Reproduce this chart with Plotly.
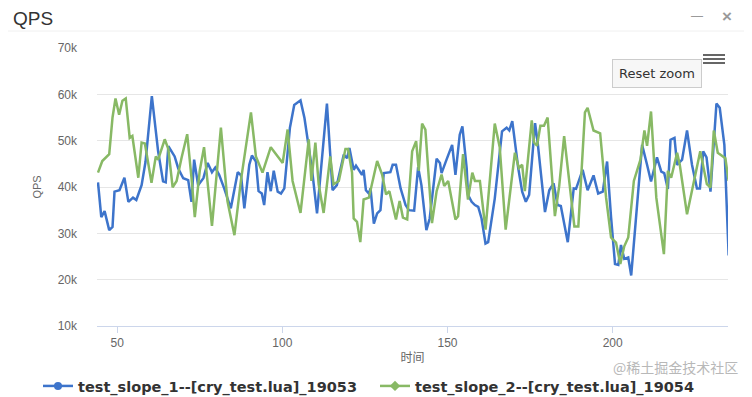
import plotly.graph_objects as go

# ---------------- data ----------------
series1_name = "test_slope_1--[cry_test.lua]_19053"
series2_name = "test_slope_2--[cry_test.lua]_19054"

blue_x = [44.2, 45.2, 46.2, 47.6, 48.6, 49.2, 50.7, 52.2, 53.4, 54.8, 55.8, 57.4, 58.6, 60.5, 62.4,
          63.9, 64.7, 65.5, 67.4, 68.5, 70.0, 71.5, 72.5, 73.3, 74.5, 76.1, 77.4, 78.7, 79.7, 80.9,
          82.4, 84.4, 86.5, 87.5, 88.5, 90.0, 90.8, 92.0, 92.8, 93.8, 94.5, 95.5, 96.5, 97.4, 98.6,
          99.6, 100.6, 102.3, 103.6, 105.5, 106.7, 107.7, 109.0, 110.5, 113.5, 115.2, 116.5, 118.6,
          119.6, 120.3, 121.6, 122.3, 123.1, 124.1, 124.6, 125.3, 126.2, 126.7, 127.7, 128.7, 129.7,
          130.7, 132.7, 133.4, 134.4, 135.8, 137.3, 138.3, 139.9, 141.1, 142.1, 143.6, 144.6, 146.7,
          147.7, 148.2, 149.7, 151.4, 152.4, 153.7, 154.5, 155.8, 156.2, 157.3, 158.3, 159.3, 160.3,
          161.5, 162.3, 164.3, 166.5, 167.9, 168.7, 169.6, 171.4, 172.6, 173.7, 174.7, 176.5, 177.3,
          179.5, 180.8, 182.1, 183.3, 184.3, 186.4, 188.2, 188.9, 190.9, 192.4, 194.2, 195.6, 197.0,
          198.3, 199.5, 200.7, 201.7, 202.5, 203.5, 204.7, 205.6, 208.9, 210.4, 211.6, 213.4, 214.7,
          215.6, 216.7, 217.5, 218.7, 219.5, 221.0, 222.5, 224.0, 225.5, 226.4, 227.4, 228.4, 229.6,
          230.8, 231.4, 232.4, 233.8, 235.1]
blue_y = [41000, 33500, 34800, 30700, 31400, 39000, 39300, 42000, 36800, 37700, 37200, 40400, 45500,
          59600, 47700, 41200, 41000, 48800, 46600, 44000, 41900, 41500, 36800, 45900, 40400, 41900,
          45200, 43200, 44200, 42600, 39700, 35400, 43200, 42500, 35400, 44800, 46800, 45500, 39100,
          38600, 36100, 43200, 39100, 43500, 39000, 38600, 39700, 52800, 57700, 58700, 54900, 49800,
          43700, 34300, 58000, 39300, 40400, 47000, 46200, 48400, 43700, 44600, 43700, 42600, 43700,
          39300, 38600, 39700, 32100, 34300, 35000, 43000, 43200, 44800, 44800, 39700, 36100, 35000,
          34900, 44300, 40400, 30700, 33200, 46100, 45200, 43000, 45900, 49100, 42600, 51300, 53100,
          44100, 38300, 36800, 36100, 35700, 33200, 27800, 28100, 37500, 52000, 52800, 52200, 54200,
          44100, 39000, 36800, 38300, 53800, 49500, 34600, 39300, 40800, 36100, 35900, 28100, 39700,
          39600, 43700, 39300, 42500, 38600, 39000, 45500, 33500, 23400, 23200, 27500, 24500, 24800,
          20900, 49100, 44800, 41200, 46400, 43300, 43000, 39600, 50200, 50600, 44800, 45900, 52200,
          44800, 39700, 39700, 47700, 46400, 39000, 52400, 58000, 57100, 49100, 25200]

green_x = [44.2, 45.5, 47.6, 48.6, 49.5, 50.6, 51.6, 52.6, 53.8, 54.6, 56.4, 57.4, 58.4, 60.4, 61.7,
           62.4, 64.4, 65.5, 66.8, 68.0, 69.5, 71.2, 72.5, 73.5, 75.0, 76.3, 78.7, 81.4, 83.4, 85.5,
           87.5, 90.5, 92.0, 94.0, 96.5, 98.6, 100.1, 101.6, 103.1, 105.5, 108.0, 108.8, 110.0, 111.0,
           112.5, 114.5, 115.5, 117.1, 119.1, 119.9, 121.1, 121.6, 122.6, 123.6, 124.6, 126.2, 128.7,
           130.2, 131.4, 132.4, 134.4, 135.5, 136.5, 137.8, 139.3, 140.5, 141.3, 142.3, 143.3, 145.3,
           146.7, 148.2, 149.0, 150.2, 152.4, 153.2, 154.7, 156.2, 157.5, 158.3, 159.8, 161.5, 164.3,
           165.8, 167.6, 170.4, 171.6, 172.6, 173.4, 175.5, 176.2, 177.1, 178.1, 179.2, 180.3, 182.5,
           183.8, 185.3, 188.4, 189.6, 191.6, 192.4, 194.2, 196.2, 198.0, 199.5, 201.0, 202.3, 203.5,
           204.7, 206.4, 208.4, 209.6, 210.4, 211.6, 213.2, 215.5, 216.7, 217.7, 219.5, 220.3, 222.5,
           226.5, 228.5, 229.6, 230.6, 231.8, 234.1, 235.1]
green_y = [43100, 45600, 47100, 55000, 59100, 55600, 58600, 59100, 50600, 51000, 42000, 49600, 49400,
           40900, 46600, 45900, 50300, 48200, 39900, 41300, 46300, 51400, 42000, 33500, 43500, 48600,
           31600, 52800, 36900, 29600, 41600, 56100, 46600, 43100, 48600, 46600, 45200, 52400, 41300,
           34400, 50300, 41300, 49600, 40600, 34400, 46600, 40600, 41300, 48200, 48200, 43100, 33200,
           32500, 28100, 37300, 37700, 45600, 42700, 38400, 39100, 33000, 37000, 33400, 33000, 47700,
           49900, 43500, 53700, 52400, 32200, 39100, 42700, 40200, 41300, 33000, 33700, 47100, 37300,
           43100, 41300, 41300, 30800, 53700, 48600, 30800, 47400, 44100, 44800, 39100, 54400, 49600,
           48900, 53200, 53200, 55000, 33700, 40200, 51000, 31500, 31500, 56100, 57100, 52200, 51600,
           37700, 29100, 28000, 23400, 27200, 29100, 41300, 45900, 52200, 48900, 56300, 37700, 25500,
           43500, 42000, 47400, 44800, 34100, 47700, 40600, 39900, 52200, 47400, 46200, 41300]

y_tickvals = [10000, 20000, 30000, 40000, 50000, 60000, 70000]
y_ticktext = ["10k", "20k", "30k", "40k", "50k", "60k", "70k"]
x_tickvals = [50, 100, 150, 200]

# ---------------- styling / layout ----------------
BLUE = "#3d74cb"
GREEN = "#88b965"
FONT = "Liberation Sans, Arial, sans-serif"
WIDE = "DejaVu Sans, Verdana, sans-serif"

# the page body has an 8px margin, so the figure is drawn 8px in from the window's corner
OFF = 8
W, H = 752 - OFF, 397 - OFF
# plot area, in window pixels
RL, RR, RT, RB = 97, 728, 48, 326
L, R, T, B = RL - OFF, RR - OFF, RT - OFF, RB - OFF


def px(xp):  # window pixel -> paper x
    return (xp - OFF - L) / (R - L)


def py(yp):  # window pixel -> paper y
    return (B - (yp - OFF)) / (B - T)


def cx(xp):  # window pixel -> container x
    return (xp - OFF) / W


def cy(yp):  # window pixel -> container y
    return 1 - (yp - OFF) / H


fig = go.Figure()
fig.add_trace(go.Scatter(x=blue_x, y=blue_y, mode="lines", line=dict(color=BLUE, width=2.5),
                         showlegend=False, legendgroup="a", hoverinfo="x+y"))
fig.add_trace(go.Scatter(x=green_x, y=green_y, mode="lines", line=dict(color=GREEN, width=2.5),
                         showlegend=False, legendgroup="b", hoverinfo="x+y"))
# legend entries (line + marker symbols, as in the original legend)
fig.add_trace(go.Scatter(x=[None], y=[None], mode="lines+markers", name=series1_name,
                         line=dict(color=BLUE, width=2.5), marker=dict(color=BLUE, size=8, symbol="circle"),
                         legendgroup="a", legend="legend"))
fig.add_trace(go.Scatter(x=[None], y=[None], mode="lines+markers", name=series2_name,
                         line=dict(color=GREEN, width=2.5), marker=dict(color=GREEN, size=8, symbol="diamond"),
                         legendgroup="b", legend="legend2"))

legend_common = dict(orientation="h", xref="container", yref="container",
                     xanchor="left", yanchor="top",
                     font=dict(size=14.5, color="#333333", family=WIDE, weight="bold"),
                     itemwidth=30, bgcolor="rgba(0,0,0,0)")

fig.update_layout(
    width=W, height=H,
    margin=dict(l=L, r=W - R, t=T, b=H - B, pad=0, autoexpand=False),
    paper_bgcolor="white", plot_bgcolor="white",
    font=dict(family=FONT, color="#666666", size=11),
    xaxis=dict(range=[43.9, 234.9], tickvals=x_tickvals, showgrid=False, zeroline=False,
               showline=True, linecolor="#ccd6eb", linewidth=1, ticks="outside", ticklen=6,
               tickcolor="#ccd6eb", tickfont=dict(size=12, color="#666666"), automargin=False,
               title=dict(text="时间", font=dict(size=12, color="#666666", family="Noto Sans CJK SC"),
                          standoff=4)),
    yaxis=dict(range=[10000, 70000], tickvals=y_tickvals, ticktext=y_ticktext, showgrid=True,
               gridcolor="#e6e6e6", gridwidth=1, zeroline=False, showline=False, ticks="",
               ticklabelstandoff=19, tickfont=dict(size=12, color="#666666"), automargin=False,
               title=dict(text="QPS", font=dict(size=11, color="#666666"), standoff=13)),
    legend=dict(legend_common, x=cx(38), y=cy(370)),
    legend2=dict(legend_common, x=cx(375), y=cy(370)),
    hovermode="closest",
)

annotations = [
    dict(text="QPS", x=px(11), y=py(18), xanchor="left", yanchor="middle", showarrow=False,
         font=dict(size=19, color="#333333", family=FONT)),
    dict(text="—", x=px(697), y=py(16), xanchor="center", yanchor="middle", showarrow=False,
         font=dict(size=12, color="#9a9a9a", family=FONT)),
    dict(text="×", x=px(727), y=py(16), xanchor="center", yanchor="middle", showarrow=False,
         font=dict(size=17, color="#9a9a9a", family=FONT, weight="bold")),
    dict(text="Reset zoom", x=px(657), y=py(73), xanchor="center", yanchor="middle", showarrow=False,
         font=dict(size=13, color="#333333", family=WIDE), bgcolor="#f7f7f7",
         bordercolor="#cccccc", borderwidth=1, borderpad=6),
    dict(text="@稀土掘金技术社区", x=px(740), y=py(367), xanchor="right", yanchor="middle",
         showarrow=False, font=dict(size=14, color="#b8b8b8", family="Noto Sans CJK SC")),
]
for a in annotations:
    a["xref"] = "paper"
    a["yref"] = "paper"
fig.update_layout(annotations=annotations)

shapes = [
    dict(type="line", x0=px(OFF), x1=px(752), y0=py(31), y1=py(31), line=dict(color="#f0f0f0", width=1)),
    dict(type="line", x0=px(703), x1=px(725), y0=py(55), y1=py(55), line=dict(color="#666666", width=2)),
    dict(type="line", x0=px(703), x1=px(725), y0=py(59), y1=py(59), line=dict(color="#666666", width=2)),
    dict(type="line", x0=px(703), x1=px(725), y0=py(63), y1=py(63), line=dict(color="#666666", width=2)),
]
for s in shapes:
    s["xref"] = "paper"
    s["yref"] = "paper"
fig.update_layout(shapes=shapes)

fig.write_html("out.html")
